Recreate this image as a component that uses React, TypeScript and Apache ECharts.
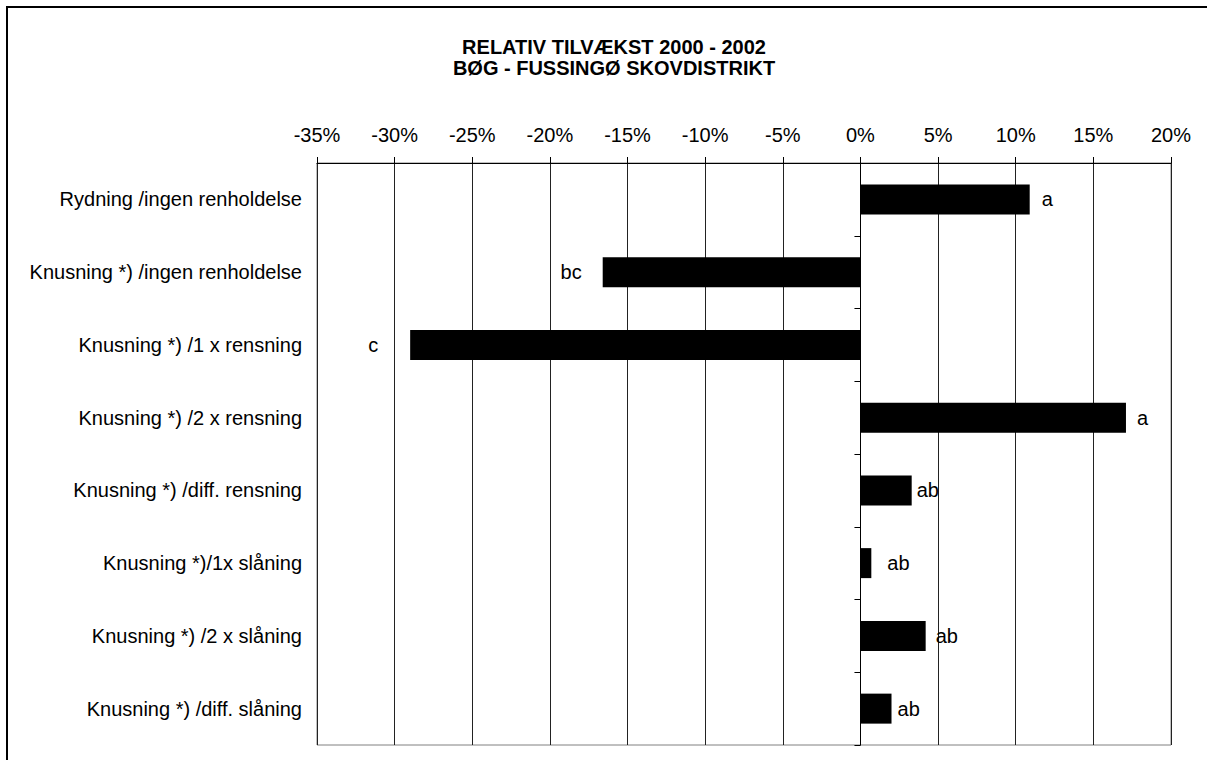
import React, { useEffect, useRef } from "react";
import * as echarts from "echarts";

const titleLines = ["RELATIV TILVÆKST 2000 - 2002", "BØG - FUSSINGØ SKOVDISTRIKT"];
const categories = [
  "Rydning /ingen renholdelse",
  "Knusning *) /ingen renholdelse",
  "Knusning *) /1 x rensning",
  "Knusning *) /2 x rensning",
  "Knusning *) /diff. rensning",
  "Knusning *)/1x slåning",
  "Knusning *) /2 x slåning",
  "Knusning *) /diff. slåning",
];
const values = [10.9, -16.6, -29.0, 17.1, 3.3, 0.7, 4.2, 2.0];
const letters = ["a", "bc", "c", "a", "ab", "ab", "ab", "ab"];
const labelGaps = [12, 21, 32, 11, 5, 16, 10, 6];
const axisMin = -35;
const axisMax = 20;
const axisStep = 5;

const FONT = "'Liberation Sans', Arial, sans-serif";
const FS = 20;

export default function App() {
  const ref = useRef<HTMLDivElement>(null);
  useEffect(() => {
    if (!ref.current) return;
    const chart = echarts.init(ref.current, undefined, { renderer: "svg" });
    chart.setOption({
      animation: false,
      backgroundColor: "#fff",
      textStyle: { fontFamily: FONT, color: "#000" },
      title: {
        text: titleLines.join("\n"),
        left: 614,
        textAlign: "center",
        top: 36,
        padding: 0,
        textStyle: {
          fontFamily: FONT,
          fontSize: FS,
          fontWeight: "bold",
          color: "#000",
          lineHeight: 21,
        },
      },
      graphic: [
        {
          type: "rect",
          shape: { x: 7, y: 7, width: 1300, height: 900 },
          style: { fill: "none", stroke: "#000", lineWidth: 2 },
          silent: true,
          z: 100,
        },
      ],
      grid: {
        left: 317,
        right: 36,
        top: 163,
        bottom: 15,
        show: true,
        borderColor: "#808080",
        borderWidth: 1,
        backgroundColor: "transparent",
      },
      xAxis: {
        type: "value",
        position: "top",
        min: axisMin,
        max: axisMax,
        interval: axisStep,
        axisLine: { show: true, onZero: false, lineStyle: { color: "#000", width: 1 } },
        axisTick: { show: true, inside: false, length: 6, lineStyle: { color: "#000" } },
        axisLabel: {
          formatter: "{value}%",
          fontFamily: FONT,
          fontSize: FS,
          color: "#000",
          margin: 18,
        },
        splitLine: { show: true, lineStyle: { color: "#222", width: 1 } },
      },
      yAxis: [
        {
          type: "category",
          data: categories,
          inverse: true,
          position: "left",
          axisLine: { show: false, onZero: false },
          axisTick: { show: false },
          axisLabel: {
            fontFamily: FONT,
            fontSize: FS,
            color: "#000",
            margin: 15,
          },
          splitLine: { show: false },
        },
        {
          type: "category",
          data: categories,
          inverse: true,
          position: "left",
          axisLine: { show: true, onZero: true, lineStyle: { color: "#000", width: 1 } },
          axisTick: { show: true, length: 6, lineStyle: { color: "#000" } },
          axisLabel: { show: false },
          splitLine: { show: false },
        },
      ],
      series: [
        {
          type: "bar",
          yAxisIndex: 0,
          barWidth: 30,
          itemStyle: { color: "#000" },
          data: values.map((v, i) => ({
            value: v,
            label: {
              show: true,
              position: v >= 0 ? "right" : "left",
              distance: labelGaps[i],
              formatter: letters[i],
              fontFamily: FONT,
              fontSize: FS,
              color: "#000",
            },
          })),
        },
      ],
    });
    return () => chart.dispose();
  }, []);
  return (
    <div
      ref={ref}
      style={{ position: "fixed", left: 0, top: 0, width: 1207, height: 760, background: "#fff" }}
    />
  );
}
